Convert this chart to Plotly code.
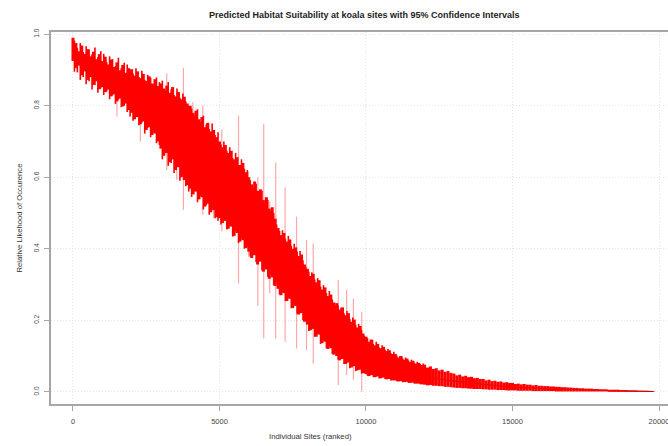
import plotly.graph_objects as go

# ---------------- data ----------------
# site rank, every 100th site
sites = list(range(0, 19900, 100))

upper = [
    0.990, 0.975, 0.952, 0.968, 0.945, 0.958, 0.938, 0.951, 0.930, 0.944,
    0.925, 0.937, 0.915, 0.929, 0.908, 0.921, 0.899, 0.914, 0.892, 0.905,
    0.902, 0.884, 0.896, 0.877, 0.889, 0.869, 0.882, 0.862, 0.874, 0.855,
    0.862, 0.848, 0.856, 0.836, 0.852, 0.826, 0.838, 0.818, 0.825, 0.806,
    0.800, 0.780, 0.786, 0.762, 0.768, 0.740, 0.752, 0.728, 0.732, 0.712,
    0.700, 0.684, 0.690, 0.668, 0.674, 0.650, 0.656, 0.634, 0.640, 0.614,
    0.600, 0.580, 0.588, 0.562, 0.566, 0.536, 0.544, 0.512, 0.516, 0.484,
    0.458, 0.438, 0.444, 0.420, 0.426, 0.400, 0.404, 0.380, 0.384, 0.356,
    0.344, 0.324, 0.330, 0.306, 0.312, 0.286, 0.292, 0.268, 0.272, 0.250,
    0.248, 0.230, 0.236, 0.214, 0.220, 0.196, 0.202, 0.180, 0.184, 0.163,
    0.154, 0.140, 0.146, 0.130, 0.134, 0.122, 0.126, 0.114, 0.116, 0.106,
    0.106, 0.096, 0.100, 0.090, 0.093, 0.084, 0.087, 0.079, 0.081, 0.075,
    0.076, 0.068, 0.071, 0.064, 0.066, 0.060, 0.062, 0.056, 0.058, 0.053,
    0.051, 0.046, 0.048, 0.043, 0.045, 0.041, 0.042, 0.038, 0.039, 0.036,
    0.036, 0.032, 0.034, 0.030, 0.031, 0.028, 0.029, 0.026, 0.027, 0.025,
    0.025, 0.022, 0.023, 0.021, 0.022, 0.020, 0.020, 0.018, 0.019, 0.017,
    0.017, 0.016, 0.016, 0.015, 0.015, 0.014, 0.014, 0.013, 0.013, 0.012,
    0.012, 0.011, 0.011, 0.010, 0.010, 0.009, 0.009, 0.009, 0.008, 0.008,
    0.007, 0.007, 0.007, 0.006, 0.006, 0.006, 0.006, 0.005, 0.005, 0.005,
    0.004, 0.004, 0.004, 0.003, 0.003, 0.003, 0.003, 0.002, 0.002,
]

lower = [
    0.925, 0.905, 0.912, 0.885, 0.896, 0.872, 0.880, 0.858, 0.868, 0.846,
    0.852, 0.838, 0.845, 0.826, 0.832, 0.812, 0.820, 0.798, 0.806, 0.788,
    0.780, 0.762, 0.768, 0.748, 0.756, 0.732, 0.740, 0.718, 0.722, 0.700,
    0.680, 0.660, 0.668, 0.642, 0.650, 0.620, 0.628, 0.600, 0.592, 0.578,
    0.568, 0.552, 0.560, 0.538, 0.544, 0.518, 0.526, 0.502, 0.508, 0.488,
    0.486, 0.472, 0.478, 0.456, 0.462, 0.436, 0.444, 0.420, 0.424, 0.402,
    0.392, 0.374, 0.382, 0.356, 0.364, 0.336, 0.342, 0.316, 0.320, 0.296,
    0.288, 0.270, 0.276, 0.254, 0.260, 0.234, 0.240, 0.216, 0.220, 0.196,
    0.188, 0.172, 0.176, 0.154, 0.160, 0.136, 0.140, 0.120, 0.122, 0.104,
    0.100, 0.088, 0.092, 0.078, 0.082, 0.068, 0.072, 0.060, 0.062, 0.052,
    0.050, 0.044, 0.047, 0.041, 0.043, 0.038, 0.040, 0.035, 0.036, 0.032,
    0.032, 0.029, 0.030, 0.027, 0.028, 0.025, 0.026, 0.023, 0.023, 0.021,
    0.020, 0.018, 0.019, 0.017, 0.017, 0.016, 0.016, 0.014, 0.014, 0.013,
    0.012, 0.011, 0.011, 0.010, 0.010, 0.009, 0.009, 0.008, 0.008, 0.008,
    0.007, 0.007, 0.006, 0.006, 0.006, 0.005, 0.005, 0.005, 0.004, 0.004,
    0.004, 0.004, 0.003, 0.003, 0.003, 0.003, 0.003, 0.002, 0.002, 0.002,
    0.002, 0.002, 0.002, 0.002, 0.002, 0.001, 0.001, 0.001, 0.001, 0.001,
    0.001, 0.001, 0.001, 0.001, 0.001, 0.001, 0.001, 0.001, 0.001, 0.001,
    0.001, 0.001, 0.001, 0.000, 0.000, 0.000, 0.000, 0.000, 0.000, 0.000,
    0.000, 0.000, 0.000, 0.000, 0.000, 0.000, 0.000, 0.000, 0.000,
]

predicted = [
    0.955, 0.940, 0.932, 0.926, 0.920, 0.915, 0.910, 0.905, 0.900, 0.895,
    0.890, 0.885, 0.880, 0.875, 0.870, 0.866, 0.861, 0.856, 0.851, 0.846,
    0.838, 0.832, 0.826, 0.819, 0.813, 0.806, 0.799, 0.792, 0.785, 0.778,
    0.770, 0.762, 0.754, 0.745, 0.737, 0.728, 0.720, 0.711, 0.702, 0.693,
    0.684, 0.675, 0.667, 0.658, 0.650, 0.641, 0.633, 0.624, 0.616, 0.607,
    0.598, 0.589, 0.580, 0.571, 0.562, 0.552, 0.543, 0.533, 0.524, 0.514,
    0.503, 0.492, 0.481, 0.469, 0.457, 0.445, 0.433, 0.420, 0.407, 0.394,
    0.380, 0.367, 0.355, 0.343, 0.331, 0.319, 0.307, 0.296, 0.285, 0.274,
    0.263, 0.252, 0.242, 0.232, 0.222, 0.212, 0.202, 0.193, 0.184, 0.175,
    0.167, 0.159, 0.151, 0.144, 0.137, 0.130, 0.124, 0.118, 0.112, 0.106,
    0.100, 0.095, 0.090, 0.086, 0.082, 0.078, 0.075, 0.072, 0.069, 0.066,
    0.064, 0.061, 0.059, 0.056, 0.054, 0.052, 0.050, 0.048, 0.046, 0.044,
    0.043, 0.041, 0.040, 0.038, 0.037, 0.035, 0.034, 0.033, 0.032, 0.031,
    0.030, 0.029, 0.028, 0.027, 0.026, 0.025, 0.024, 0.023, 0.022, 0.021,
    0.020, 0.019, 0.019, 0.018, 0.017, 0.017, 0.016, 0.015, 0.015, 0.014,
    0.014, 0.013, 0.013, 0.012, 0.012, 0.011, 0.011, 0.011, 0.010, 0.010,
    0.009, 0.009, 0.009, 0.008, 0.008, 0.008, 0.007, 0.007, 0.007, 0.007,
    0.006, 0.006, 0.006, 0.006, 0.005, 0.005, 0.005, 0.005, 0.005, 0.004,
    0.004, 0.004, 0.004, 0.003, 0.003, 0.003, 0.003, 0.003, 0.003, 0.002,
    0.002, 0.002, 0.002, 0.002, 0.001, 0.001, 0.001, 0.001, 0.001,
]

# in-between sites (ranks 50, 150, ... 11950) where the band is wide
mid_sites = list(range(50, 12000, 100))

mid_upper = [
    0.982, 0.961, 0.975, 0.950, 0.966, 0.957, 0.944, 0.963, 0.936, 0.952,
    0.945, 0.922, 0.938, 0.930, 0.911, 0.934, 0.905, 0.920, 0.915, 0.896,
    0.890, 0.905, 0.880, 0.898, 0.872, 0.886, 0.878, 0.860, 0.879, 0.866,
    0.870, 0.842, 0.866, 0.845, 0.830, 0.848, 0.822, 0.834, 0.812, 0.798,
    0.792, 0.772, 0.790, 0.754, 0.772, 0.748, 0.735, 0.750, 0.718, 0.726,
    0.692, 0.700, 0.674, 0.684, 0.654, 0.668, 0.634, 0.650, 0.624, 0.620,
    0.592, 0.570, 0.582, 0.554, 0.562, 0.526, 0.536, 0.504, 0.500, 0.468,
    0.450, 0.452, 0.428, 0.436, 0.408, 0.414, 0.392, 0.394, 0.368, 0.348,
    0.336, 0.334, 0.314, 0.318, 0.294, 0.298, 0.276, 0.282, 0.258, 0.242,
    0.242, 0.236, 0.220, 0.226, 0.204, 0.208, 0.188, 0.190, 0.172, 0.156,
    0.150, 0.146, 0.134, 0.140, 0.124, 0.130, 0.118, 0.120, 0.108, 0.112,
    0.102, 0.100, 0.094, 0.096, 0.088, 0.090, 0.082, 0.084, 0.078, 0.079,
]

mid_lower = [
    0.895, 0.893, 0.872, 0.880, 0.860, 0.868, 0.845, 0.858, 0.836, 0.849,
    0.830, 0.840, 0.818, 0.829, 0.805, 0.817, 0.796, 0.800, 0.782, 0.770,
    0.758, 0.770, 0.745, 0.752, 0.722, 0.738, 0.712, 0.726, 0.695, 0.690,
    0.650, 0.668, 0.632, 0.640, 0.612, 0.630, 0.590, 0.606, 0.575, 0.560,
    0.545, 0.560, 0.530, 0.548, 0.510, 0.522, 0.495, 0.512, 0.485, 0.478,
    0.468, 0.480, 0.454, 0.466, 0.434, 0.450, 0.416, 0.430, 0.400, 0.406,
    0.378, 0.384, 0.362, 0.370, 0.340, 0.350, 0.322, 0.330, 0.298, 0.304,
    0.272, 0.278, 0.254, 0.262, 0.234, 0.244, 0.218, 0.224, 0.200, 0.202,
    0.170, 0.176, 0.154, 0.162, 0.134, 0.144, 0.122, 0.128, 0.106, 0.108,
    0.090, 0.092, 0.078, 0.082, 0.066, 0.072, 0.058, 0.062, 0.051, 0.053,
    0.045, 0.046, 0.041, 0.043, 0.037, 0.040, 0.036, 0.036, 0.032, 0.034,
    0.030, 0.030, 0.027, 0.028, 0.025, 0.026, 0.023, 0.024, 0.021, 0.022,
]

# isolated sites with very wide intervals
spike_sites = [1500, 2300, 3200, 3540, 3770, 4090, 4430, 4800, 5080, 5650, 5990,
               6310, 6510, 6715, 6920, 7240, 7630, 7970, 8200, 9055, 9340, 9570, 9855]
spike_lower = [0.770, 0.700, 0.620, 0.593, 0.509, 0.620, 0.495, 0.486, 0.448, 0.303, 0.378,
               0.240, 0.149, 0.275, 0.149, 0.140, 0.121, 0.117, 0.079, 0.019, 0.047, 0.033, 0.000]
spike_upper = [0.900, 0.870, 0.890, 0.840, 0.906, 0.810, 0.800, 0.700, 0.733, 0.772, 0.616,
               0.600, 0.749, 0.532, 0.641, 0.572, 0.490, 0.425, 0.415, 0.313, 0.285, 0.260, 0.224]

x_ticks = [0, 5000, 10000, 15000, 20000]
y_ticks = [0.0, 0.2, 0.4, 0.6, 0.8, 1.0]
y_tick_labels = ["0.0", "0.2", "0.4", "0.6", "0.8", "1.0"]

title_text = "Predicted Habitat Suitability at koala sites with 95% Confidence Intervals"
x_title = "Individual Sites (ranked)"
y_title = "Relative Likehood of Occurence"


def segments(xs, lo, hi):
    sx, sy = [], []
    for x, a, b in zip(xs, lo, hi):
        sx += [x, x, None]
        sy += [a, b, None]
    return sx, sy


bx, by = segments(sites, lower, upper)
mx, my = segments(mid_sites, mid_lower, mid_upper)
spx, spy = segments(spike_sites, spike_lower, spike_upper)

fig = go.Figure()
fig.add_trace(go.Scatter(x=sites, y=predicted, mode="lines",
                         line=dict(color="black", width=1), hoverinfo="skip"))
fig.add_trace(go.Scatter(x=spx, y=spy, mode="lines",
                         line=dict(color="rgba(255,0,0,0.35)", width=1.2), hoverinfo="skip"))
fig.add_trace(go.Scatter(x=bx, y=by, mode="lines",
                         line=dict(color="#ff0000", width=3.0), hoverinfo="skip"))
fig.add_trace(go.Scatter(x=mx, y=my, mode="lines",
                         line=dict(color="#ff0000", width=1.6), hoverinfo="skip"))

narrow = "Liberation Sans Narrow, Liberation Sans, Arial, sans-serif"
regular = "Liberation Sans, Arial, sans-serif"

fig.update_layout(
    width=668, height=446,
    margin=dict(l=51, r=0, t=32, b=42),
    paper_bgcolor="white", plot_bgcolor="white",
    showlegend=False,
    font=dict(family=regular, color="#333333", size=7),
    xaxis=dict(
        range=[-750, 20307], tickvals=x_ticks, ticktext=[str(v) for v in x_ticks],
        showgrid=True, gridcolor="#e6e6e6", griddash="1px,2px", gridwidth=1,
        zeroline=False, showline=True, linecolor="#a6a6a6", linewidth=1.5, mirror=True,
        ticks="outside", ticklen=5, tickcolor="#a6a6a6", tickwidth=1,
        tickfont=dict(family=narrow, size=7.5, color="#444444"),
        ticklabelstandoff=4, ticklabeloverflow="allow", automargin=False,
    ),
    yaxis=dict(
        range=[-0.034, 1.006], tickvals=y_ticks, ticktext=y_tick_labels,
        showgrid=True, gridcolor="#e6e6e6", griddash="1px,2px", gridwidth=1,
        zeroline=False, showline=True, linecolor="#a6a6a6", linewidth=1.5, mirror=False,
        ticks="outside", ticklen=5, tickcolor="#a6a6a6", tickwidth=1,
        tickangle=-90, tickfont=dict(family=regular, size=6.5, color="#444444"),
        ticklabelstandoff=3, automargin=False,
    ),
    annotations=[
        dict(text="<b>" + title_text + "</b>", xref="paper", yref="paper",
             x=(364 - 51) / 617, y=1 + 17 / 372, xanchor="center", yanchor="middle",
             showarrow=False, font=dict(family=narrow, size=9, color="#222222")),
        dict(text=x_title, xref="paper", yref="paper",
             x=(310 - 51) / 617, y=-(437 - 404) / 372, xanchor="center", yanchor="middle",
             showarrow=False, font=dict(family=narrow, size=7.7, color="#333333")),
        dict(text=y_title, xref="paper", yref="paper", textangle=-90,
             x=-(51 - 19) / 617, y=(404 - 218.5) / 372, xanchor="center", yanchor="middle",
             showarrow=False, font=dict(family=regular, size=7.7, color="#333333")),
    ],
)

fig.write_html("out.html", config={"displayModeBar": False},
               post_script="document.body.style.margin='0';document.body.style.overflow='hidden';")
